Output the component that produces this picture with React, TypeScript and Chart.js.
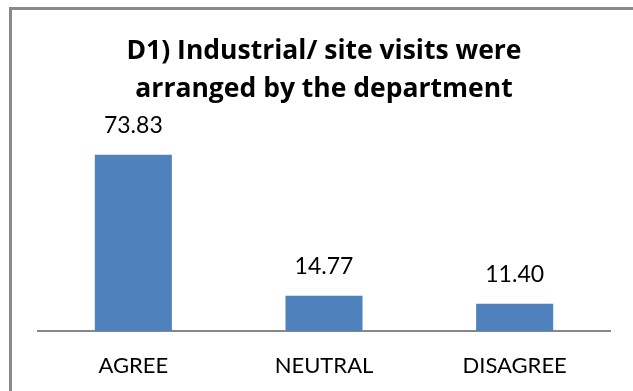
import React, { useEffect, useRef } from "react";
import { Chart, registerables } from "chart.js";

Chart.register(...registerables);

const categories = ["AGREE", "NEUTRAL", "DISAGREE"];
const values = [73.83, 14.77, 11.4];
const titleLines = ["D1) Industrial/ site visits were", "arranged by the department"];

const FONT = "Lato, 'Open Sans', sans-serif";
const TITLE_FONT = "'Open Sans', Lato, sans-serif";

const valueLabels = {
  id: "valueLabels",
  afterDatasetsDraw(chart: any) {
    const ctx = chart.ctx;
    const meta = chart.getDatasetMeta(0);
    ctx.save();
    ctx.font = `23px ${FONT}`;
    ctx.fillStyle = "#000";
    ctx.textAlign = "center";
    ctx.textBaseline = "middle";
    meta.data.forEach((bar: any, i: number) => {
      ctx.fillText(values[i].toFixed(2), bar.x, bar.y - 29);
    });
    ctx.restore();
  },
};

export default function App() {
  const ref = useRef<HTMLCanvasElement>(null);
  useEffect(() => {
    if (!ref.current) return;
    const chart = new Chart(ref.current, {
      type: "bar",
      data: {
        labels: categories,
        datasets: [
          {
            data: values,
            backgroundColor: "#4F81BD",
            barPercentage: 0.404,
            categoryPercentage: 1,
          },
        ],
      },
      options: {
        responsive: false,
        animation: false,
        layout: { padding: { left: 38, right: 23, top: 0, bottom: 0 } },
        plugins: {
          legend: { display: false },
          tooltip: { enabled: false },
          title: {
            display: true,
            text: titleLines,
            color: "#000",
            font: { family: TITLE_FONT, size: 26.5, weight: "bold", lineHeight: 38 / 26.5 },
            padding: { top: 32, bottom: 32 },
          },
        },
        scales: {
          x: {
            grid: { display: false, drawTicks: false },
            border: { display: true, color: "#878787", width: 2 },
            ticks: { color: "#000", font: { family: FONT, size: 22 }, padding: 22 },
            afterFit: (s: any) => {
              s.height = 60;
            },
          },
          y: { display: false, min: 0, max: 80 },
        },
      },
      plugins: [valueLabels],
    });
    return () => chart.destroy();
  }, []);
  return (
    <div style={{ position: "absolute", left: 0, top: 0, width: 633, height: 391, background: "#fff", overflow: "hidden" }}>
      <div
        style={{
          position: "absolute",
          left: 9,
          top: 7,
          width: 633,
          height: 400,
          borderLeft: "3px solid #8a8a8a",
          borderTop: "3px solid #8a8a8a",
          boxSizing: "border-box",
        }}
      />
      <canvas ref={ref} width={633} height={391} style={{ position: "absolute", left: 0, top: 0 }} />
    </div>
  );
}
